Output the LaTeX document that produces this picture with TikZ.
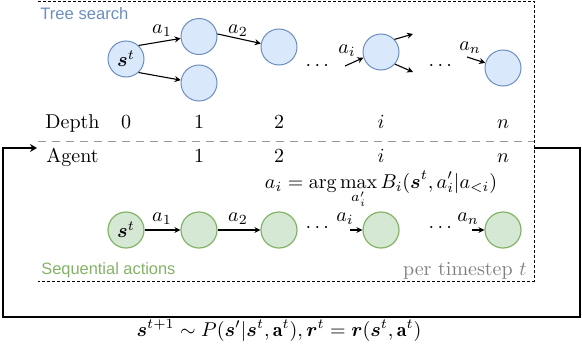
\documentclass[tikz,border=0pt]{standalone}
\usepackage{amsmath,bm}
\usepackage{fontspec}
\newfontfamily\lsans{Liberation Sans}
\usetikzlibrary{arrows.meta}
\definecolor{tsblue}{HTML}{DAE8FC}
\definecolor{tsbluedraw}{HTML}{6C8EBF}
\definecolor{sqgreen}{HTML}{D5E8D4}
\definecolor{sqgreendraw}{HTML}{82B366}
\definecolor{divgray}{HTML}{999999}
\definecolor{txtgray}{HTML}{7F7F7F}
\tikzset{
  x=0.5pt, y=-0.5pt,
  treenode/.style={circle, draw=tsbluedraw, fill=tsblue, line width=0.5pt, minimum size=18pt, inner sep=0pt},
  seqnode/.style={circle, draw=sqgreendraw, fill=sqgreen, line width=0.6pt, minimum size=18pt, inner sep=0pt},
  arr/.style={-{Stealth[length=3pt,width=3pt]}, line width=0.55pt},
  seqarr/.style={-{Stealth[length=3pt,width=3pt]}, line width=0.75pt},
  lbl/.style={inner sep=0pt},
  rowtxt/.style={anchor=base, inner sep=0pt},
  boxline/.style={line width=0.45pt, dash pattern=on 1.5pt off 1pt},
}
\begin{document}
\begin{tikzpicture}
\useasboundingbox (0,0) rectangle (582,348);

% dashed frame (top, right, bottom)
\coordinate (bTL) at (38,1);
\coordinate (bTR) at (534,1);
\coordinate (bBR) at (534,281);
\coordinate (bBL) at (38,281);
\draw[boxline] (bTL) -- (bTR) -- (bBR) -- (bBL);

% gray divider
\coordinate (dL) at (38,141);
\coordinate (dR) at (534,141);
\draw[divgray, line width=0.5pt, dash pattern=on 4pt off 3pt] (dL) -- (dR);

% outer loop
\coordinate (loopS) at (534,148);
\coordinate (loopE) at (37,148);
\draw[line width=1pt, -{Stealth[length=3.5pt,width=4pt]}] (loopS) -- (579.5,148) -- (579.5,317) -- (2.5,317) -- (2.5,148) -- (loopE);

% titles
\node[anchor=base west, inner sep=0pt, text=tsbluedraw, font=\lsans\fontsize{8.3}{10}\selectfont] (ttree) at (40,19) {Tree search};
\node[anchor=base west, inner sep=0pt, text=sqgreendraw, font=\lsans\fontsize{8.2}{10}\selectfont] (tseq) at (41,274) {Sequential actions};
\node[anchor=base east, inner sep=0pt, text=txtgray] (tper) at (527,275) {per timestep $t$};

% tree search nodes
\node[treenode] (s0) at (126,59) {$\bm{s}^t$};
\node[treenode] (u1) at (199,36.5) {};
\node[treenode] (l1) at (199,83) {};
\node[treenode] (d2) at (279,47) {};
\node[treenode] (ni) at (381,52) {};
\node[treenode] (nn) at (503,68) {};

\draw[arr] (s0.47) -- (u1.186);
\draw[arr] (s0.-47) -- (l1.171);
\draw[arr] (u1.8) -- (d2.169);
\node[lbl] (la1) at (162,31) {$a_1$};
\node[lbl] (la2) at (238,31) {$a_2$};

\node[lbl] (tdots1) at (319,66) {$\cdots$};
\node[lbl] (tdots2) at (442,66) {$\cdots$};

\coordinate (niin) at (345,66);
\draw[arr] (niin) -- (ni.198);
\node[lbl] (lai) at (347,51) {$a_i$};
\coordinate (niup) at (413,34);
\coordinate (nidn) at (413,72);
\draw[arr] (ni.43) -- (niup);
\draw[arr] (ni.-41) -- (nidn);

\coordinate (nnin) at (467,57);
\draw[arr] (nnin) -- (nn.164);
\node[lbl] (lan) at (470,48) {$a_n$};

% rows
\node[rowtxt] (hdepth) at (72.5,128) {Depth};
\node[rowtxt] (dep0) at (126,128) {0};
\node[rowtxt] (dep1) at (199,128) {1};
\node[rowtxt] (dep2) at (279,128) {2};
\node[rowtxt] (depi) at (381,128) {$i$};
\node[rowtxt] (depn) at (503,128) {$n$};

\node[rowtxt] (hagent) at (72.5,162) {Agent};
\node[rowtxt] (ag1) at (199,162) {1};
\node[rowtxt] (ag2) at (279,162) {2};
\node[rowtxt] (agi) at (381,162) {$i$};
\node[rowtxt] (agn) at (503,162) {$n$};

% equation
\node[rowtxt] (eqa) at (381,188) {$\displaystyle a_i = \arg\max_{a'_i} B_i(\bm{s}^t, a'_i | a_{<i})$};

% sequential nodes
\node[seqnode] (g0) at (126,230) {$\bm{s}^t$};
\node[seqnode] (g1) at (199,230) {};
\node[seqnode] (g2) at (279,230) {};
\node[seqnode] (gi) at (381,230) {};
\node[seqnode] (gn) at (503,230) {};

\draw[seqarr] (g0) -- (g1);
\draw[seqarr] (g1) -- (g2);
\node[lbl] (sa1) at (162,219) {$a_1$};
\node[lbl] (sa2) at (238,219) {$a_2$};
\node[lbl] (sdots1) at (319,228) {$\cdots$};
\node[lbl] (sdots2) at (442,228) {$\cdots$};
\coordinate (giin) at (350,230);
\draw[seqarr] (giin) -- (gi.west);
\node[lbl] (sai) at (345,219) {$a_i$};
\coordinate (gnin) at (472,230);
\draw[seqarr] (gnin) -- (gn.west);
\node[lbl] (san) at (468,219) {$a_n$};

% bottom equation
\node[rowtxt] (eqb) at (279,336) {$\bm{s}^{t+1} \sim P(\bm{s}'|\bm{s}^t, \mathbf{a}^t), \bm{r}^t = \bm{r}(\bm{s}^t, \mathbf{a}^t)$};
\end{tikzpicture}
\end{document}
